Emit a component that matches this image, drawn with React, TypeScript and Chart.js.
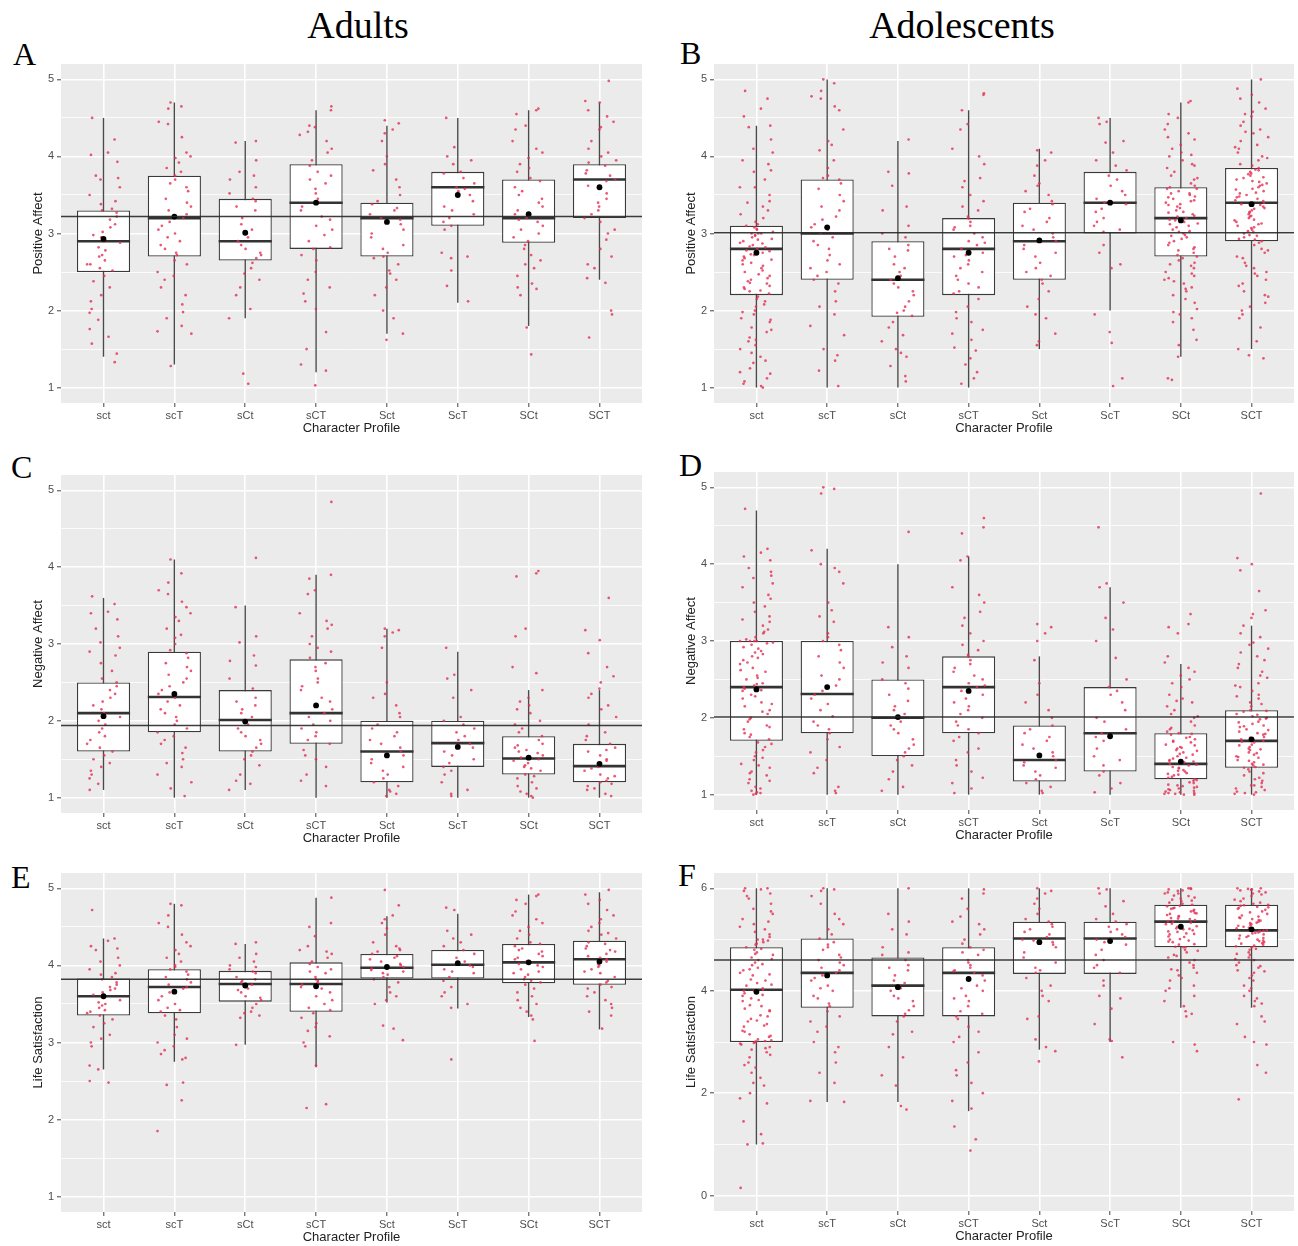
import React, { useEffect, useRef } from "react";
import { Chart, registerables } from "chart.js";

Chart.register(...registerables);
Chart.defaults.font.family = "'Liberation Sans', Arial, sans-serif";

// ---------------- DATA ----------------
const PROFILES = ["sct", "scT", "sCt", "sCT", "Sct", "ScT", "SCt", "SCT"];

// box stats per profile: [lower whisker, Q1, median, Q3, upper whisker]
const paAdultBox = [[1.4,2.5,2.9,3.3,4.5],[1.3,2.7,3.2,3.75,4.7],[1.9,2.65,2.9,3.45,4.2],[1.2,2.8,3.4,3.9,4.6],[1.7,2.7,3.2,3.4,4.4],[2.1,3.1,3.6,3.8,4.5],[1.8,2.88,3.2,3.7,4.6],[2.4,3.2,3.7,3.9,4.7]];
const paAdultMean = [2.93,3.22,3.01,3.4,3.15,3.5,3.25,3.6];
const paAdultRef = 3.22;
const paAdultPts = [
  [4.5,4.22,4.05,4.02,3.93,3.75,3.72,3.7,3.6,3.5,3.42,3.38,3.32,3.3,3.27,3.22,3.18,3.12,3.08,3.02,2.98,2.95,2.9,2.88,2.82,2.78,2.72,2.7,2.65,2.6,2.6,2.55,2.52,2.45,2.38,2.3,2.2,2.12,2.02,1.97,1.88,1.76,1.66,1.57,1.44,1.33],
  [4.7,4.65,4.62,4.45,4.42,4.25,4.05,4.0,3.98,3.92,3.85,3.8,3.75,3.7,3.65,3.6,3.55,3.45,3.4,3.35,3.3,3.25,3.2,3.15,3.1,3.05,3.0,2.95,2.9,2.85,2.8,2.75,2.72,2.65,2.6,2.5,2.45,2.4,2.3,2.2,2.08,1.98,1.9,1.8,1.73,1.7,1.28],
  [4.2,4.18,3.95,3.8,3.75,3.7,3.6,3.52,3.45,3.42,3.35,3.3,3.2,3.12,3.05,3.0,2.95,2.9,2.85,2.8,2.75,2.72,2.68,2.62,2.55,2.48,2.4,2.3,2.2,2.02,1.9,1.18,1.05],
  [4.65,4.6,4.4,4.38,4.32,4.28,4.2,4.1,4.05,3.95,3.88,3.8,3.75,3.7,3.65,3.58,3.52,3.45,3.4,3.35,3.3,3.22,3.18,3.1,3.05,2.98,2.9,2.82,2.8,2.72,2.65,2.5,2.4,2.3,2.22,2.12,2.02,1.72,1.5,1.3,1.22,1.03],
  [4.47,4.43,4.35,4.3,4.2,4.0,3.9,3.82,3.7,3.6,3.5,3.42,3.38,3.33,3.3,3.25,3.2,3.18,3.12,3.05,3.0,2.95,2.85,2.8,2.75,2.7,2.68,2.6,2.52,2.48,2.4,2.3,2.2,2.0,1.9,1.7,1.62],
  [4.5,4.12,4.0,3.95,3.9,3.8,3.78,3.72,3.65,3.6,3.58,3.55,3.5,3.42,3.35,3.3,3.25,3.2,3.15,3.1,3.05,2.75,2.7,2.68,2.52,2.32,2.12],
  [4.62,4.6,4.55,4.4,4.35,4.2,4.1,4.05,3.98,3.9,3.85,3.8,3.72,3.68,3.6,3.55,3.5,3.45,3.4,3.35,3.3,3.25,3.2,3.18,3.15,3.1,3.05,3.0,2.95,2.9,2.85,2.8,2.72,2.65,2.6,2.55,2.45,2.35,2.3,2.28,2.2,1.78,1.43],
  [4.98,4.72,4.7,4.6,4.52,4.45,4.38,4.35,4.2,4.1,4.05,4.0,3.95,3.92,3.88,3.82,3.78,3.75,3.7,3.68,3.62,3.58,3.52,3.45,3.4,3.35,3.3,3.25,3.2,3.15,3.05,3.0,2.92,2.8,2.7,2.6,2.55,2.42,2.36,2.0,1.95,1.65],
];

const paTeenBox = [[1.0,2.2,2.8,3.1,4.4],[1.0,2.4,3.0,3.7,5.0],[1.0,1.92,2.4,2.9,4.2],[1.0,2.2,2.8,3.2,4.6],[1.5,2.4,2.9,3.4,4.1],[2.0,3.0,3.4,3.8,4.5],[1.4,2.7,3.2,3.6,4.7],[1.5,2.9,3.4,3.85,5.0]];
const paTeenMean = [2.75,3.08,2.42,2.75,2.91,3.4,3.17,3.38];
const paTeenRef = 3.01;
const paTeenPts = [
  [4.85,4.75,4.62,4.52,4.4,4.38,4.22,4.1,4.05,3.95,3.9,3.8,3.7,3.6,3.5,3.42,3.35,3.3,3.2,3.15,3.1,3.08,3.05,3.02,3.0,3.0,2.98,2.95,2.92,2.9,2.88,2.85,2.82,2.8,2.78,2.75,2.72,2.7,2.68,2.65,2.62,2.6,2.55,2.5,2.45,2.42,2.4,2.38,2.35,2.3,2.28,2.25,2.22,2.18,2.12,2.05,2.0,1.95,1.9,1.85,1.78,1.72,1.65,1.6,1.55,1.45,1.4,1.32,1.25,1.2,1.12,1.05,1.02,1.0,3.4,3.25,3.12,3.06,3.0,2.97,2.93,2.87,2.83,2.77,2.73,2.66,2.58,2.52,2.47,2.36,2.32,2.26,2.15,2.08,1.98,1.88,1.75,1.62,1.5,1.35,1.18,1.08,3.6,3.82],
  [5.0,4.95,4.85,4.78,4.75,4.65,4.6,4.35,4.2,4.15,4.08,3.95,3.85,3.75,3.72,3.7,3.65,3.58,3.5,3.42,3.35,3.3,3.22,3.18,3.12,3.08,3.05,3.0,2.95,2.9,2.85,2.8,2.72,2.65,2.6,2.55,2.5,2.45,2.4,2.35,2.25,2.12,2.05,1.95,1.8,1.68,1.5,1.42,1.35,1.22,1.02],
  [4.22,3.8,3.78,3.62,3.35,3.3,3.1,3.0,2.95,2.85,2.8,2.78,2.7,2.6,2.55,2.5,2.45,2.4,2.35,2.3,2.25,2.2,2.12,2.05,2.0,1.97,1.93,1.85,1.78,1.68,1.6,1.5,1.45,1.4,1.28,1.15,1.08],
  [4.82,4.8,4.6,4.42,4.35,4.1,4.0,3.9,3.72,3.68,3.6,3.5,3.42,3.35,3.3,3.22,3.2,3.15,3.1,3.08,3.05,3.0,2.95,2.9,2.88,2.85,2.8,2.75,2.72,2.7,2.65,2.6,2.55,2.5,2.45,2.4,2.35,2.3,2.25,2.22,2.15,2.05,1.98,1.9,1.85,1.75,1.7,1.62,1.52,1.48,1.38,1.3,1.2,1.12,1.05],
  [4.08,4.05,3.95,3.88,3.75,3.65,3.62,3.55,3.5,3.42,3.38,3.32,3.28,3.2,3.15,3.1,3.05,3.0,2.95,2.9,2.85,2.8,2.75,2.7,2.62,2.55,2.5,2.45,2.4,2.35,2.25,2.15,2.05,1.95,1.9,1.7,1.6,1.55],
  [4.5,4.45,4.42,4.2,4.18,4.05,3.95,3.88,3.82,3.75,3.7,3.62,3.55,3.5,3.45,3.4,3.38,3.32,3.28,3.2,3.15,3.1,3.05,3.02,2.85,2.75,2.6,2.55,1.95,1.72,1.58,1.12,1.02],
  [4.72,4.7,4.55,4.5,4.42,4.35,4.3,4.22,4.15,4.1,4.05,4.0,3.95,3.9,3.85,3.8,3.75,3.7,3.65,3.62,3.6,3.58,3.55,3.52,3.5,3.48,3.45,3.42,3.4,3.38,3.35,3.3,3.28,3.25,3.22,3.2,3.18,3.15,3.12,3.1,3.05,3.02,3.0,2.98,2.95,2.9,2.85,2.82,2.8,2.75,2.72,2.7,2.65,2.6,2.55,2.5,2.45,2.4,2.35,2.3,2.25,2.2,2.1,2.02,1.95,1.85,1.75,1.62,1.55,1.4,1.12,1.1,3.58,3.52,3.47,3.43,3.37,3.33,3.27,3.23,3.17,3.13,3.08,3.03,2.97,2.93,2.88,2.78,2.68,2.58,2.48,2.38,2.28,2.15,1.98,3.72,3.88,4.02,4.25,2.62,2.42,1.9],
  [5.0,4.88,4.8,4.75,4.7,4.62,4.58,4.52,4.45,4.4,4.35,4.3,4.25,4.2,4.15,4.1,4.05,4.0,3.98,3.95,3.9,3.88,3.85,3.82,3.8,3.78,3.75,3.72,3.7,3.68,3.65,3.62,3.6,3.58,3.55,3.52,3.5,3.48,3.45,3.42,3.4,3.38,3.35,3.32,3.3,3.28,3.25,3.22,3.2,3.18,3.15,3.12,3.1,3.08,3.05,3.02,3.0,2.98,2.95,2.92,2.9,2.85,2.8,2.75,2.7,2.62,2.55,2.5,2.45,2.4,2.32,2.25,2.18,2.1,2.05,2.0,1.9,1.78,1.6,1.5,1.42,1.38,3.83,3.77,3.73,3.67,3.63,3.57,3.53,3.47,3.43,3.37,3.33,3.27,3.23,3.17,3.13,3.07,3.03,2.97,2.93,2.88,2.78,2.68,2.58,2.48,2.35,2.2,4.12,4.32,4.55,1.95],
];

const naAdultBox = [[1.1,1.6,2.1,2.5,3.6],[1.0,1.85,2.31,2.9,4.1],[1.1,1.6,2.01,2.4,3.5],[1.0,1.7,2.1,2.8,3.9],[1.0,1.2,1.6,2.0,3.2],[1.0,1.4,1.71,2.0,2.9],[1.0,1.3,1.51,1.8,2.4],[1.0,1.2,1.41,1.7,2.4]];
const naAdultMean = [2.06,2.35,1.99,2.2,1.55,1.66,1.52,1.44];
const naAdultRef = 1.94;
const naAdultPts = [
  [3.62,3.52,3.42,3.4,3.32,3.2,3.1,3.02,2.95,2.9,2.85,2.75,2.65,2.55,2.5,2.45,2.4,2.35,2.3,2.25,2.2,2.15,2.1,2.05,2.0,1.95,1.9,1.85,1.8,1.75,1.7,1.65,1.6,1.55,1.5,1.45,1.4,1.35,1.3,1.25,1.18,1.1],
  [4.1,3.92,3.8,3.7,3.65,3.55,3.48,3.4,3.35,3.3,3.2,3.12,3.08,3.0,2.92,2.88,2.82,2.75,2.7,2.65,2.6,2.55,2.5,2.45,2.4,2.35,2.3,2.25,2.2,2.15,2.1,2.05,2.0,1.95,1.9,1.85,1.8,1.75,1.7,1.65,1.58,1.5,1.45,1.4,1.3,1.2,1.12,1.02],
  [4.12,3.48,3.1,3.02,2.85,2.78,2.72,2.55,2.42,2.3,2.25,2.2,2.15,2.1,2.05,2.0,1.95,1.9,1.85,1.8,1.75,1.7,1.65,1.6,1.55,1.5,1.42,1.3,1.22,1.18,1.1],
  [4.85,3.9,3.85,3.7,3.65,3.4,3.3,3.25,3.2,3.1,3.0,2.95,2.9,2.82,2.75,2.7,2.65,2.55,2.5,2.45,2.4,2.3,2.25,2.2,2.15,2.1,2.05,2.0,1.95,1.9,1.85,1.8,1.75,1.7,1.62,1.55,1.5,1.4,1.3,1.22,1.15],
  [3.2,3.18,3.15,3.1,2.95,2.5,2.35,2.3,2.2,2.1,2.05,1.95,1.9,1.85,1.8,1.75,1.7,1.65,1.6,1.55,1.5,1.45,1.4,1.35,1.3,1.25,1.2,1.15,1.1,1.08,1.05,1.02],
  [2.95,2.6,2.55,2.4,2.3,2.05,2.0,1.95,1.9,1.85,1.8,1.75,1.7,1.65,1.6,1.55,1.5,1.45,1.4,1.35,1.3,1.2,1.1,1.05,1.02],
  [3.95,3.92,3.88,3.2,3.1,2.7,2.62,2.4,2.3,2.25,2.2,2.15,2.1,2.0,1.95,1.9,1.85,1.8,1.75,1.7,1.68,1.65,1.62,1.6,1.58,1.55,1.52,1.5,1.48,1.45,1.42,1.4,1.38,1.35,1.3,1.28,1.25,1.2,1.15,1.12,1.08,1.05,1.02,1.0],
  [3.6,3.18,3.05,2.88,2.7,2.58,2.5,2.42,2.35,2.3,2.2,2.15,2.05,1.95,1.85,1.8,1.75,1.7,1.65,1.62,1.6,1.55,1.5,1.48,1.45,1.42,1.4,1.38,1.35,1.3,1.28,1.25,1.22,1.2,1.18,1.15,1.12,1.1,1.05,1.02],
];

const naTeenBox = [[1.0,1.7,2.4,3.0,4.7],[1.0,1.8,2.31,3.0,4.2],[1.0,1.5,2.0,2.5,4.0],[1.0,1.8,2.4,2.8,4.1],[1.0,1.17,1.45,1.9,2.8],[1.0,1.3,1.8,2.4,3.7],[1.0,1.2,1.4,1.8,2.7],[1.0,1.35,1.7,2.1,3.2]];
const naTeenMean = [2.37,2.4,2.01,2.35,1.51,1.76,1.43,1.72];
const naTeenRef = 2.01;
const naTeenPts = [
  [4.72,4.2,4.15,4.1,4.05,3.95,3.9,3.82,3.75,3.7,3.6,3.5,3.45,3.38,3.32,3.25,3.2,3.15,3.1,3.05,3.02,3.0,3.0,2.98,2.95,2.9,2.85,2.8,2.78,2.75,2.7,2.65,2.6,2.55,2.5,2.45,2.42,2.4,2.38,2.35,2.3,2.25,2.2,2.15,2.1,2.05,2.0,1.95,1.9,1.85,1.8,1.75,1.72,1.68,1.62,1.55,1.5,1.45,1.4,1.35,1.3,1.25,1.2,1.15,1.1,1.05,1.02,1.0,3.0,3.0,2.97,2.92,2.87,2.83,2.72,2.62,2.52,2.44,2.36,2.28,2.18,2.08,1.98,1.88,1.78,1.66,1.58,1.48,1.38,1.28,1.18,1.08,1.03,3.12,3.28,3.55,3.85,1.01],
  [5.0,4.98,4.92,4.18,4.0,3.95,3.9,3.75,3.5,3.4,3.32,3.25,3.1,3.05,3.0,2.95,2.88,2.8,2.72,2.65,2.55,2.5,2.42,2.35,2.3,2.25,2.18,2.1,2.02,1.95,1.9,1.85,1.8,1.72,1.62,1.55,1.45,1.35,1.28,1.1,1.05,1.02],
  [4.42,3.18,3.05,2.92,2.8,2.72,2.65,2.5,2.45,2.38,2.3,2.22,2.15,2.1,2.05,2.0,1.95,1.9,1.85,1.8,1.72,1.65,1.6,1.55,1.5,1.45,1.38,1.3,1.2,1.1,1.05],
  [4.6,4.48,4.4,4.1,4.05,3.7,3.6,3.5,3.38,3.3,3.2,3.1,3.0,2.95,2.88,2.82,2.8,2.75,2.7,2.65,2.6,2.55,2.5,2.45,2.42,2.4,2.35,2.3,2.25,2.2,2.15,2.1,2.05,2.0,1.95,1.9,1.85,1.8,1.75,1.7,1.6,1.55,1.45,1.38,1.3,1.22,1.15,1.08,1.02],
  [3.22,3.18,3.1,3.0,2.75,2.45,2.3,2.2,2.1,2.0,1.9,1.85,1.8,1.75,1.7,1.65,1.6,1.55,1.5,1.45,1.42,1.38,1.35,1.3,1.25,1.2,1.15,1.1,1.05,1.02],
  [4.48,3.75,3.7,3.5,3.3,3.15,3.0,2.78,2.5,2.4,2.35,2.3,2.2,2.1,2.0,1.95,1.85,1.8,1.75,1.7,1.6,1.5,1.45,1.38,1.3,1.25,1.15,1.08,1.03],
  [3.35,3.22,3.18,3.1,2.8,2.72,2.65,2.6,2.55,2.45,2.4,2.3,2.25,2.2,2.15,2.1,2.05,2.0,1.95,1.9,1.85,1.82,1.8,1.78,1.75,1.72,1.7,1.68,1.65,1.62,1.6,1.58,1.55,1.52,1.5,1.48,1.45,1.42,1.4,1.38,1.36,1.35,1.32,1.3,1.28,1.25,1.22,1.2,1.18,1.15,1.12,1.1,1.08,1.06,1.05,1.04,1.02,1.01,1.0,1.79,1.74,1.69,1.64,1.57,1.53,1.47,1.43,1.39,1.34,1.31,1.27,1.23,1.19,1.16,1.13,1.09,1.07,1.03,1.02,1.0,1.01,2.02,2.22,2.5,1.87,1.61,1.44,1.26,1.11],
  [4.92,4.08,4.0,3.92,3.65,3.4,3.35,3.3,3.2,3.1,3.05,2.98,2.9,2.85,2.8,2.7,2.65,2.6,2.52,2.45,2.4,2.35,2.3,2.25,2.2,2.15,2.1,2.08,2.05,2.02,2.0,1.98,1.95,1.92,1.9,1.88,1.85,1.82,1.8,1.78,1.75,1.72,1.7,1.68,1.65,1.62,1.6,1.58,1.55,1.52,1.5,1.48,1.45,1.42,1.4,1.38,1.35,1.3,1.25,1.2,1.15,1.12,1.1,1.06,1.04,1.02,1.0,2.09,2.04,1.99,1.94,1.89,1.84,1.79,1.74,1.69,1.64,1.59,1.54,1.49,1.44,1.39,1.36,1.33,1.28,1.22,1.18,1.08,1.03,2.28,2.42,2.55,2.75,2.95,1.12,1.01,2.18],
];

const lsAdultBox = [[2.65,3.35,3.6,3.83,4.35],[2.75,3.38,3.72,3.95,4.8],[2.97,3.53,3.76,3.93,4.28],[2.68,3.4,3.76,4.04,4.88],[3.52,3.83,3.97,4.15,4.64],[3.44,3.83,4.01,4.2,4.67],[3.33,3.77,4.04,4.28,4.92],[3.17,3.75,4.08,4.32,4.95]];
const lsAdultMean = [3.6,3.66,3.74,3.73,3.98,4.03,4.04,4.05];
const lsAdultRef = 3.82;
const lsAdultPts = [
  [4.72,4.35,4.32,4.25,4.22,4.2,4.1,4.05,4.0,3.95,3.9,3.88,3.85,3.82,3.78,3.75,3.72,3.7,3.68,3.65,3.62,3.6,3.58,3.55,3.52,3.5,3.48,3.45,3.42,3.4,3.38,3.35,3.3,3.25,3.2,3.1,3.05,3.0,2.95,2.7,2.65,2.5,2.48],
  [4.8,4.78,4.65,4.55,4.5,4.4,4.3,4.25,4.2,4.15,4.1,4.05,4.0,3.98,3.95,3.92,3.88,3.85,3.82,3.78,3.75,3.72,3.7,3.65,3.6,3.55,3.5,3.45,3.42,3.4,3.35,3.3,3.2,3.1,3.05,3.0,2.95,2.9,2.85,2.8,2.78,2.48,2.45,2.25,1.85],
  [4.3,4.28,4.15,4.1,4.05,4.0,3.98,3.95,3.92,3.9,3.85,3.82,3.8,3.78,3.75,3.72,3.7,3.68,3.65,3.6,3.58,3.55,3.5,3.45,3.4,3.38,3.35,3.32,2.97],
  [4.88,4.55,4.5,4.38,4.25,4.2,4.18,4.15,4.1,4.05,4.02,3.98,3.95,3.92,3.9,3.85,3.82,3.8,3.78,3.75,3.72,3.7,3.65,3.6,3.55,3.5,3.45,3.42,3.38,3.32,3.25,3.2,3.15,3.08,3.0,2.95,2.7,2.2,2.15],
  [4.98,4.78,4.65,4.6,4.55,4.48,4.4,4.3,4.25,4.22,4.2,4.18,4.15,4.12,4.1,4.08,4.05,4.02,4.0,3.98,3.96,3.94,3.92,3.9,3.88,3.85,3.82,3.78,3.72,3.65,3.6,3.55,3.5,3.22,3.18,3.03],
  [4.75,4.72,4.45,4.4,4.35,4.3,4.25,4.2,4.15,4.1,4.05,4.02,4.0,3.98,3.95,3.92,3.9,3.85,3.8,3.72,3.65,3.6,3.5,3.45,2.78],
  [4.92,4.9,4.85,4.8,4.7,4.65,4.6,4.55,4.5,4.45,4.4,4.35,4.3,4.28,4.25,4.22,4.2,4.18,4.15,4.12,4.1,4.08,4.05,4.02,4.0,3.98,3.95,3.92,3.9,3.88,3.85,3.82,3.8,3.78,3.75,3.7,3.65,3.6,3.55,3.5,3.45,3.4,3.35,3.3,3.02],
  [4.98,4.92,4.85,4.8,4.72,4.65,4.6,4.55,4.5,4.45,4.42,4.4,4.35,4.3,4.28,4.25,4.22,4.2,4.18,4.15,4.12,4.1,4.08,4.05,4.02,4.0,3.98,3.95,3.92,3.9,3.85,3.8,3.78,3.75,3.72,3.7,3.65,3.6,3.55,3.5,3.45,3.4,3.35,3.18],
];

const lsTeenBox = [[1.0,3.0,4.02,4.85,6.0],[1.83,3.67,4.35,5.02,6.0],[1.83,3.5,4.1,4.65,6.0],[1.65,3.5,4.35,4.85,6.0],[2.85,4.33,5.02,5.35,6.0],[3.0,4.33,5.02,5.35,6.0],[3.67,4.85,5.35,5.68,6.0],[3.67,4.85,5.18,5.68,6.0]];
const lsTeenMean = [3.98,4.3,4.07,4.23,4.95,4.97,5.25,5.2];
const lsTeenRef = 4.6;
const lsTeenPts = [
  [6.0,6.0,5.98,5.95,5.9,5.8,5.7,5.6,5.5,5.4,5.35,5.3,5.2,5.15,5.1,5.05,5.0,4.98,4.95,4.9,4.85,4.8,4.75,4.7,4.65,4.6,4.55,4.5,4.45,4.4,4.35,4.3,4.2,4.15,4.1,4.05,4.0,4.0,3.95,3.9,3.85,3.8,3.7,3.65,3.6,3.5,3.45,3.4,3.35,3.3,3.2,3.15,3.1,3.05,3.02,3.0,3.0,2.98,2.95,2.9,2.85,2.8,2.7,2.6,2.5,2.4,2.3,2.2,2.0,1.9,1.8,1.45,1.2,1.02,1.0,0.15,5.0,4.92,4.82,4.72,4.62,4.52,4.42,4.32,4.22,4.12,4.02,3.92,3.82,3.72,3.62,3.52,3.42,3.32,3.22,3.12,3.03,3.01,2.97,2.88,2.75,2.55,5.25,5.55,5.85,2.15],
  [6.0,5.98,5.95,5.85,5.7,5.5,5.4,5.3,5.2,5.1,5.02,4.95,4.9,4.85,4.8,4.7,4.65,4.6,4.55,4.5,4.45,4.4,4.35,4.3,4.25,4.2,4.1,4.05,4.0,3.9,3.85,3.75,3.7,3.6,3.5,3.4,3.3,3.2,3.0,2.9,2.8,2.6,2.4,2.2,1.85,1.83],
  [6.0,5.5,5.35,5.2,5.1,4.85,4.75,4.7,4.6,4.5,4.45,4.4,4.3,4.2,4.15,4.1,4.05,4.0,3.9,3.85,3.8,3.7,3.62,3.55,3.5,3.4,3.2,3.15,2.9,2.7,2.35,2.15,1.75,1.68],
  [5.98,5.9,5.8,5.6,5.45,5.35,5.3,5.2,5.1,5.0,4.92,4.85,4.8,4.75,4.7,4.6,4.55,4.5,4.45,4.4,4.38,4.35,4.3,4.25,4.2,4.1,4.05,4.0,3.9,3.85,3.8,3.7,3.6,3.55,3.5,3.45,3.3,3.2,3.1,3.0,2.8,2.6,2.45,2.35,2.2,2.0,1.85,1.7,1.35,1.1,0.88],
  [6.0,5.95,5.9,5.8,5.7,5.6,5.5,5.4,5.35,5.3,5.25,5.2,5.15,5.1,5.05,5.0,4.98,4.95,4.9,4.85,4.75,4.65,4.55,4.45,4.4,4.35,4.25,4.1,4.0,3.9,3.8,3.5,3.45,3.05,2.9,2.82,2.62],
  [6.0,5.98,5.9,5.75,5.65,5.5,5.4,5.35,5.3,5.25,5.2,5.15,5.1,5.05,5.0,4.95,4.9,4.8,4.7,4.6,4.5,4.45,4.35,4.2,4.1,3.9,3.85,3.65,3.35,3.05,3.02,2.7],
  [6.0,6.0,5.98,5.95,5.92,5.9,5.85,5.82,5.8,5.78,5.75,5.72,5.7,5.68,5.65,5.62,5.6,5.58,5.55,5.52,5.5,5.48,5.45,5.42,5.4,5.38,5.35,5.33,5.3,5.28,5.25,5.22,5.2,5.18,5.15,5.12,5.1,5.05,5.0,4.98,4.95,4.9,4.85,4.8,4.75,4.7,4.65,4.6,4.5,4.45,4.4,4.35,4.3,4.2,4.1,4.0,3.9,3.8,3.7,3.55,3.5,3.0,2.95,2.82,5.66,5.61,5.56,5.51,5.46,5.41,5.36,5.31,5.26,5.21,5.16,5.11,5.06,5.01,4.96,4.91,4.86,4.78,4.68,4.55,4.42,4.25,4.05,5.9,5.96,5.99,5.76,5.86,3.6,4.85],
  [6.0,6.0,5.98,5.96,5.94,5.92,5.9,5.85,5.8,5.75,5.72,5.7,5.68,5.66,5.64,5.62,5.6,5.55,5.5,5.45,5.42,5.4,5.38,5.35,5.32,5.3,5.28,5.25,5.22,5.2,5.18,5.16,5.14,5.12,5.1,5.08,5.05,5.02,5.0,4.98,4.95,4.92,4.9,4.88,4.85,4.8,4.75,4.7,4.65,4.6,4.5,4.45,4.4,4.35,4.3,4.2,4.1,4.0,3.9,3.8,3.75,3.7,3.5,3.4,3.35,3.1,3.0,2.95,2.55,2.4,1.88,5.67,5.63,5.58,5.53,5.47,5.43,5.37,5.33,5.27,5.23,5.17,5.13,5.07,5.03,4.97,4.93,4.87,4.82,4.72,4.62,4.48,4.38,4.25,4.05,5.78,5.88,5.97,5.99,3.85,4.55],
];

const Y_MAJOR_15 = [1, 2, 3, 4, 5];
const Y_MINOR_15 = [1.5, 2.5, 3.5, 4.5];
const Y_MAJOR_06 = [0, 2, 4, 6];
const Y_MINOR_06 = [1, 3, 5];

// ---------------- LAYOUT / STYLE ----------------
const Y_AXIS_W = 30;
const X_AXIS_H = 33;
const PAD_T = 10;
const PAD_R = 4;

type PanelDef = {
  left: number; top: number; right: number; bottom: number;
  yMin: number; yMax: number; yMajor: number[]; yMinor: number[];
  yTitle: string; box: number[][]; means: number[]; ref: number; pts: number[][];
};

const PANELS: PanelDef[] = [
  { left: 61, top: 64, right: 642, bottom: 403, yMin: 0.8, yMax: 5.2, yMajor: Y_MAJOR_15, yMinor: Y_MINOR_15, yTitle: "Positive Affect", box: paAdultBox, means: paAdultMean, ref: paAdultRef, pts: paAdultPts },
  { left: 714, top: 64, right: 1294, bottom: 403, yMin: 0.8, yMax: 5.2, yMajor: Y_MAJOR_15, yMinor: Y_MINOR_15, yTitle: "Positive Affect", box: paTeenBox, means: paTeenMean, ref: paTeenRef, pts: paTeenPts },
  { left: 61, top: 475, right: 642, bottom: 813, yMin: 0.8, yMax: 5.2, yMajor: Y_MAJOR_15, yMinor: Y_MINOR_15, yTitle: "Negative Affect", box: naAdultBox, means: naAdultMean, ref: naAdultRef, pts: naAdultPts },
  { left: 714, top: 472, right: 1294, bottom: 810, yMin: 0.8, yMax: 5.2, yMajor: Y_MAJOR_15, yMinor: Y_MINOR_15, yTitle: "Negative Affect", box: naTeenBox, means: naTeenMean, ref: naTeenRef, pts: naTeenPts },
  { left: 61, top: 873, right: 642, bottom: 1212, yMin: 0.8, yMax: 5.2, yMajor: Y_MAJOR_15, yMinor: Y_MINOR_15, yTitle: "Life Satisfaction", box: lsAdultBox, means: lsAdultMean, ref: lsAdultRef, pts: lsAdultPts },
  { left: 714, top: 873, right: 1294, bottom: 1211, yMin: -0.3, yMax: 6.3, yMajor: Y_MAJOR_06, yMinor: Y_MINOR_06, yTitle: "Life Satisfaction", box: lsTeenBox, means: lsTeenMean, ref: lsTeenRef, pts: lsTeenPts },
];

const LETTERS = [
  { t: "A", x: 13, capTop: 44 }, { t: "B", x: 680, capTop: 43 },
  { t: "C", x: 11, capTop: 457 }, { t: "D", x: 679, capTop: 455 },
  { t: "E", x: 11, capTop: 867 }, { t: "F", x: 678, capTop: 865 },
];

// deterministic horizontal jitter (position only, not data)
function jitter(cat: number, k: number): number {
  const s = Math.sin((cat * 977 + k * 131 + 7) * 12.9898) * 43758.5453;
  return (s - Math.floor(s) - 0.5) * 0.48;
}

const bgPlugin = {
  id: "panelBg",
  beforeDraw(chart: any) {
    const { ctx, chartArea: a } = chart;
    ctx.save();
    ctx.fillStyle = "#EBEBEB";
    ctx.fillRect(a.left, a.top, a.right - a.left, a.bottom - a.top);
    ctx.restore();
  },
};

const refPlugin = {
  id: "refLine",
  afterDatasetsDraw(chart: any, _args: any, opts: any) {
    const { ctx, chartArea: a } = chart;
    const y = chart.scales.y.getPixelForValue(opts.value);
    ctx.save();
    ctx.strokeStyle = "rgba(40,40,40,0.9)";
    ctx.lineWidth = 1.6;
    ctx.beginPath();
    ctx.moveTo(a.left, y);
    ctx.lineTo(a.right, y);
    ctx.stroke();
    ctx.restore();
  },
};

function Panel({ def }: { def: PanelDef }) {
  const ref = useRef<HTMLCanvasElement>(null);
  const cx = def.left - Y_AXIS_W;
  const cy = def.top - PAD_T;
  const w = def.right + PAD_R - cx;
  const h = def.bottom + X_AXIS_H - cy;

  useEffect(() => {
    const whisk = def.box.map((b, i) => ({ x: i + 1, y: [b[0], b[4]] }));
    const boxes = def.box.map((b, i) => ({ x: i + 1, y: [b[1], b[3]] }));
    const meds = def.box.map((b, i) => ({ x: i + 1, y: b[2] }));
    const means = def.means.map((m, i) => ({ x: i + 1, y: m }));
    const pts = def.pts.flatMap((arr, i) => arr.map((v, k) => ({ x: i + 1 + jitter(i, k), y: v })));
    const isMajor = (v: number) => def.yMajor.includes(v);

    const chart = new Chart(ref.current as HTMLCanvasElement, {
      type: "scatter",
      data: {
        datasets: [
          { type: "bar", data: whisk, backgroundColor: "#4a4a4a", maxBarThickness: 1.4, grouped: false, order: 5 } as any,
          { type: "bar", data: boxes, backgroundColor: "#ffffff", borderColor: "#3a3a3a", borderWidth: 1.3, borderSkipped: false, categoryPercentage: 0.75, barPercentage: 1, grouped: false, order: 4 } as any,
          {
            type: "scatter", data: meds, pointStyle: "line", borderColor: "#333333", borderWidth: 2.6, order: 3,
            pointRadius: (c: any) => { const s = c.chart.scales.x; return Math.abs(s.getPixelForValue(1.375) - s.getPixelForValue(1)); },
          } as any,
          { type: "scatter", data: pts, pointRadius: 1.35, backgroundColor: "rgba(228,48,84,0.8)", borderWidth: 0, order: 2 } as any,
          { type: "scatter", data: means, pointRadius: 2.9, backgroundColor: "#000000", borderWidth: 0, order: 1 } as any,
        ],
      },
      options: {
        animation: false,
        responsive: false,
        maintainAspectRatio: false,
        events: [],
        layout: { padding: { top: PAD_T, right: PAD_R, left: 0, bottom: 0 } },
        plugins: { legend: { display: false }, tooltip: { enabled: false }, refLine: { value: def.ref } } as any,
        scales: {
          x: {
            type: "linear", min: 0.4, max: 8.6, offset: false,
            afterBuildTicks: (s: any) => { s.ticks = PROFILES.map((_, i) => ({ value: i + 1 })); },
            afterFit: (s: any) => { s.height = X_AXIS_H; },
            grid: { color: "#ffffff", lineWidth: 1.6, drawTicks: true, tickLength: 4, tickColor: "#444", tickWidth: 1, offset: false },
            border: { display: false },
            ticks: { autoSkip: false, maxRotation: 0, minRotation: 0, padding: 2, color: "#4d4d4d", font: { size: 11 }, callback: (_v: any, i: number) => PROFILES[i] },
            title: { display: true, text: "Character Profile", color: "#222222", font: { size: 13 }, padding: { top: 0, bottom: 0 } },
          },
          y: {
            type: "linear", min: def.yMin, max: def.yMax,
            afterBuildTicks: (s: any) => { s.ticks = [...def.yMajor, ...def.yMinor].sort((a, b) => a - b).map((v) => ({ value: v })); },
            afterFit: (s: any) => { s.width = Y_AXIS_W; },
            grid: {
              color: "#ffffff",
              lineWidth: (c: any) => (c.tick && isMajor(c.tick.value) ? 1.6 : 0.8),
              drawTicks: true, tickLength: 4, tickWidth: 1,
              tickColor: (c: any) => (c.tick && isMajor(c.tick.value) ? "#444" : "rgba(0,0,0,0)"),
            },
            border: { display: false },
            ticks: { autoSkip: false, padding: 3, color: "#4d4d4d", font: { size: 11 }, callback: (v: any) => (isMajor(Number(v)) ? String(v) : "") },
            title: { display: true, text: def.yTitle, color: "#222222", font: { size: 13 }, padding: { top: 0, bottom: 0 } },
          },
        },
      } as any,
      plugins: [bgPlugin, refPlugin] as any,
    });
    return () => chart.destroy();
  }, []);

  return (
    <canvas
      ref={ref}
      width={w}
      height={h}
      style={{ position: "absolute", left: cx, top: cy, width: w, height: h }}
    />
  );
}

const serif = "'Liberation Serif', 'Times New Roman', serif";

export default function App() {
  return (
    <div style={{ position: "absolute", left: 0, top: 0, width: 1298, height: 1246, background: "#ffffff", overflow: "hidden" }}>
      <div style={{ position: "absolute", left: 358, top: 13 - 0.1755 * 38, transform: "translateX(-50%)", fontFamily: serif, fontSize: 38, lineHeight: 1, whiteSpace: "nowrap", color: "#000" }}>Adults</div>
      <div style={{ position: "absolute", left: 962, top: 13 - 0.1755 * 38, transform: "translateX(-50%)", fontFamily: serif, fontSize: 38, lineHeight: 1, whiteSpace: "nowrap", color: "#000" }}>Adolescents</div>
      {LETTERS.map((l) => (
        <div key={l.t} style={{ position: "absolute", left: l.x, top: l.capTop - 0.1755 * 32, fontFamily: serif, fontSize: 32, lineHeight: 1, color: "#000" }}>{l.t}</div>
      ))}
      {PANELS.map((p, i) => (
        <Panel key={i} def={p} />
      ))}
    </div>
  );
}
